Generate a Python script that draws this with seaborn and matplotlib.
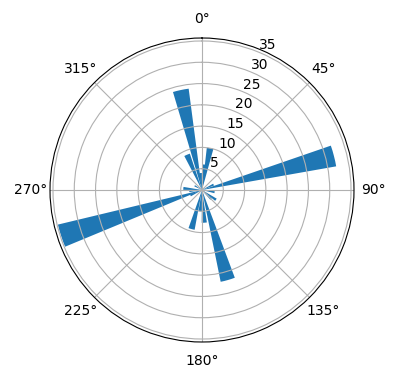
import numpy as np
import pandas as pd
import matplotlib
matplotlib.use("Agg")
import matplotlib.pyplot as plt
import seaborn as sns

# Bar directions (degrees, clockwise from north) and lengths
directions_deg = [348, 337, 355, 5, 11, 65, 75.5, 100, 125, 135,
                  164, 176, 185, 195, 245, 252, 265, 275, 300]
counts = [24, 9, 4, 6, 10, 3, 32, 3, 4, 3,
          22, 7.7, 5, 9.5, 3, 34.8, 3, 4.4, 2]
bar_width_deg = 9
r_max = 35.7

df = pd.DataFrame({"theta": np.deg2rad(directions_deg), "r": counts})

color = sns.color_palette("tab10")[0]

fig = plt.figure(figsize=(3.96, 3.80), dpi=100)
ax = fig.add_axes([50 / 396, 38 / 380, 304 / 396, 304 / 380], projection="polar")
ax.set_theta_zero_location("N")
ax.set_theta_direction(-1)
ax.bar(df["theta"], df["r"], width=np.deg2rad(bar_width_deg), color=color)
ax.set_ylim(0, r_max)
ax.set_yticks([5, 10, 15, 20, 25, 30, 35])
fig.savefig("out.png", dpi=100)
